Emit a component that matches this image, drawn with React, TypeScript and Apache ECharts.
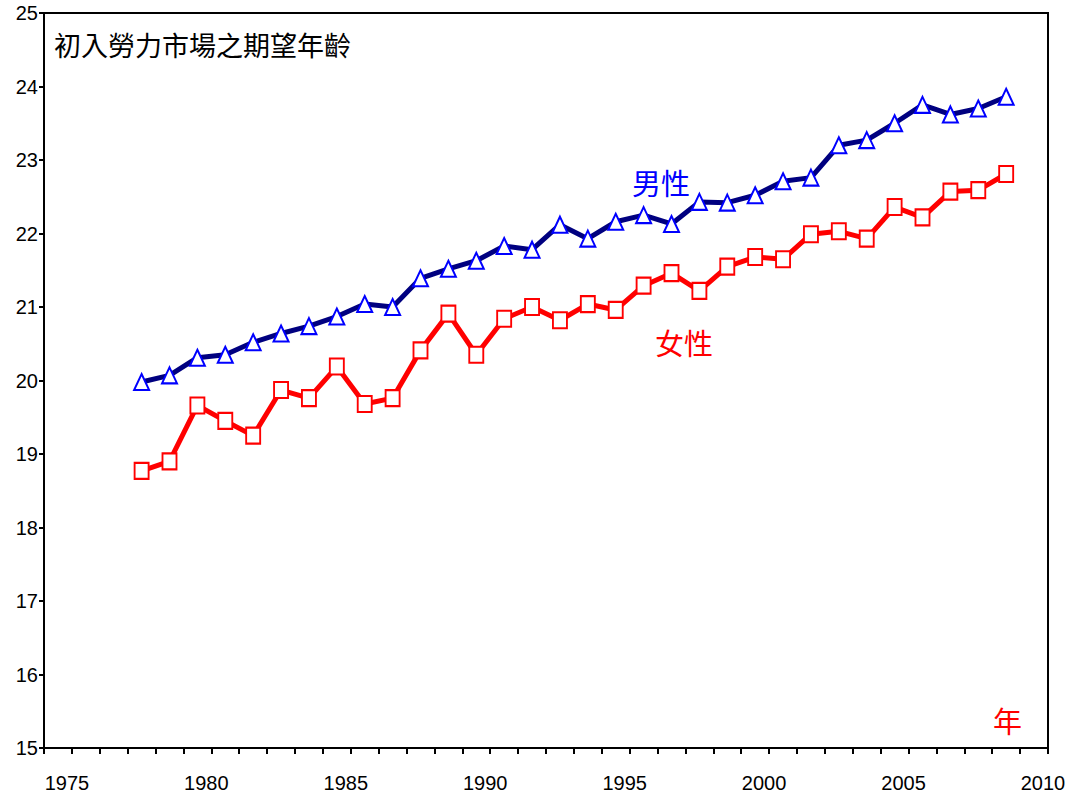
import React, { useEffect, useRef } from "react";
import * as echarts from "echarts";

// Survey years (points are drawn at the middle of each year interval)
const years = [
  1977, 1978, 1979, 1980, 1981, 1982, 1983, 1984, 1985, 1986, 1987, 1988, 1989, 1990, 1991, 1992,
  1993, 1994, 1995, 1996, 1997, 1998, 1999, 2000, 2001, 2002, 2003, 2004, 2005, 2006, 2007, 2008,
];

// 男性 expected age
const maleAge = [
  19.98, 20.07, 20.31, 20.35, 20.52, 20.64, 20.74, 20.87, 21.04, 21.0, 21.39, 21.52, 21.63, 21.83,
  21.78, 22.12, 21.93, 22.16, 22.25, 22.13, 22.43, 22.42, 22.52, 22.71, 22.76, 23.2, 23.27, 23.5,
  23.75, 23.62, 23.7, 23.86,
];

// 女性 expected age
const femaleAge = [
  18.77, 18.9, 19.66, 19.45, 19.25, 19.87, 19.76, 20.19, 19.68, 19.76, 20.41, 20.91, 20.35, 20.84,
  21.0, 20.82, 21.04, 20.96, 21.29, 21.46, 21.22, 21.55, 21.68, 21.65, 21.99, 22.03, 21.93, 22.36,
  22.22, 22.57, 22.59, 22.81,
];

const xTickLabels = [1975, 1980, 1985, 1990, 1995, 2000, 2005, 2010];
const yTickLabels = [15, 16, 17, 18, 19, 20, 21, 22, 23, 24, 25];

const titleText = "初入勞力市場之期望年齡";
const maleName = "男性";
const femaleName = "女性";
const xUnit = "年";

export default function App() {
  const ref = useRef<HTMLDivElement>(null);

  useEffect(() => {
    if (!ref.current) return;
    const chart = echarts.init(ref.current, undefined, { renderer: "svg" });
    const cjk = '"Noto Sans CJK TC", "Noto Sans CJK SC", sans-serif';
    const latin = '"Liberation Sans", Arial, sans-serif';

    const option: any = {
      animation: false,
      backgroundColor: "#ffffff",
      grid: {
        left: 44,
        right: 21,
        top: 13,
        bottom: 49,
        show: true,
        borderColor: "#000",
        borderWidth: 2,
        backgroundColor: "transparent",
      },
      xAxis: {
        type: "value",
        min: 1974,
        max: 2010,
        interval: 1,
        axisLine: { show: true, onZero: false, lineStyle: { color: "#000", width: 2 } },
        axisTick: { show: true, inside: false, length: 6, lineStyle: { color: "#000", width: 2 } },
        axisLabel: {
          formatter: (v: number) => (xTickLabels.includes(v) ? String(v) : ""),
          fontSize: 20,
          color: "#000",
          fontFamily: latin,
          margin: 25,
          padding: [0, 10, 0, 0],
          showMinLabel: true,
          showMaxLabel: true,
        },
        splitLine: { show: false },
      },
      yAxis: {
        type: "value",
        min: 15,
        max: 25,
        interval: 1,
        axisLine: { show: true, onZero: false, lineStyle: { color: "#000", width: 2 } },
        axisTick: { show: true, inside: false, length: 5, lineStyle: { color: "#000", width: 2 } },
        axisLabel: {
          formatter: (v: number) => (yTickLabels.includes(v) ? String(v) : ""),
          fontSize: 20,
          color: "#000",
          fontFamily: latin,
          margin: 6,
        },
        splitLine: { show: false },
      },
      series: [
        {
          name: maleName,
          type: "line",
          data: years.map((y, i) => [y + 0.5, maleAge[i]]),
          symbol: "triangle",
          symbolSize: [15, 16],
          showAllSymbol: true,
          lineStyle: { color: "#000080", width: 5 },
          itemStyle: { color: "#ffffff", borderColor: "#0000ff", borderWidth: 2 },
          z: 3,
        },
        {
          name: femaleName,
          type: "line",
          data: years.map((y, i) => [y + 0.5, femaleAge[i]]),
          symbol: "rect",
          symbolSize: [14, 16],
          showAllSymbol: true,
          lineStyle: { color: "#ff0000", width: 5 },
          itemStyle: { color: "#ffffff", borderColor: "#ff0000", borderWidth: 2 },
          z: 3,
        },
      ],
      graphic: [
        {
          type: "text",
          left: 54,
          top: 31,
          style: { text: titleText, fontSize: 27, fill: "#000", fontFamily: cjk },
        },
        {
          type: "text",
          left: 632,
          top: 167,
          style: { text: maleName, fontSize: 29, fill: "#0000ff", fontFamily: cjk },
        },
        {
          type: "text",
          left: 655,
          top: 327,
          style: { text: femaleName, fontSize: 29, fill: "#ff0000", fontFamily: cjk },
        },
        {
          type: "text",
          left: 993,
          top: 705,
          style: { text: xUnit, fontSize: 29, fill: "#ff0000", fontFamily: cjk },
        },
      ],
    };

    chart.setOption(option);
    return () => chart.dispose();
  }, []);

  return (
    <div
      ref={ref}
      style={{ position: "absolute", left: 0, top: 0, width: 1069, height: 797 }}
    />
  );
}
